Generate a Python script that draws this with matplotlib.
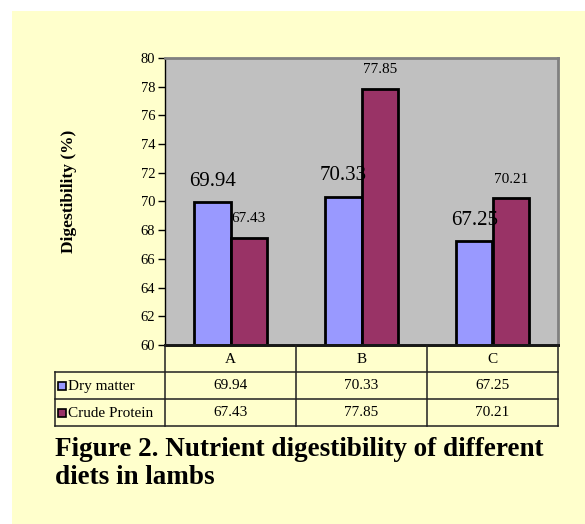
import matplotlib.pyplot as plt
from matplotlib.patches import Rectangle
import numpy as np

diets = ["A", "B", "C"]
dry_matter = [69.94, 70.33, 67.25]
crude_protein = [67.43, 77.85, 70.21]
series_names = ["Dry matter", "Crude Protein"]
y_ticks = list(range(60, 81, 2))

W, H = 585, 524
BG = "#FFFFCC"
C_DRY = "#9999FF"
C_CP = "#993366"

plt.rcParams["font.family"] = ["Liberation Serif", "DejaVu Serif"]

fig = plt.figure(figsize=(W / 100, H / 100), dpi=100)
fig.patch.set_facecolor("white")
fig.patches.append(Rectangle((12 / W, 0), 1, 1 - 11 / H, transform=fig.transFigure,
                             facecolor=BG, edgecolor="none", zorder=-10))

# plot area in pixels
L, R, T, B = 165, 558, 58, 345
ax = fig.add_axes([L / W, 1 - B / H, (R - L) / W, (B - T) / H])
ax.set_facecolor("#C0C0C0")

x = np.arange(len(diets))
bw = 0.28
ax.bar(x - bw / 2, np.array(dry_matter) - 60, bw, bottom=60, color=C_DRY,
       edgecolor="black", linewidth=2)
ax.bar(x + bw / 2, np.array(crude_protein) - 60, bw, bottom=60, color=C_CP,
       edgecolor="black", linewidth=2)

for xi, v in zip(x - bw / 2, dry_matter):
    ax.annotate(f"{v:.2f}", (xi, v), xytext=(0, 15), textcoords="offset points",
                ha="center", va="center", fontsize=15)
for xi, v in zip(x + bw / 2, crude_protein):
    ax.annotate(f"{v:.2f}", (xi, v), xytext=(0, 14), textcoords="offset points",
                ha="center", va="center", fontsize=11)

ax.set_xlim(-0.5, len(diets) - 0.5)
ax.set_ylim(60, 80)
ax.set_yticks(y_ticks)
ax.tick_params(axis="y", length=5, width=1, labelsize=10.5, pad=2)
ax.set_xticks([])
for s in ["top", "right"]:
    ax.spines[s].set_color("#808080")
    ax.spines[s].set_linewidth(2)
ax.spines["left"].set_linewidth(1)
ax.spines["bottom"].set_linewidth(2)
ax.set_ylabel("Digestibility (%)", fontsize=12.5, fontweight="bold")
ax.yaxis.set_label_coords((77 - L) / (R - L), (B - 191.5) / (B - T))

# data table under the plot, drawn in pixel coords
tab = fig.add_axes([0, 0, 1, 1], facecolor="none")
tab.set_xlim(0, W)
tab.set_ylim(H, 0)
tab.axis("off")

TL = 55
rows_y = [B, 372, 399, 426]
col_x = [L + (R - L) * i / len(diets) for i in range(len(diets) + 1)]
lc = "#202020"
lw = 1.1
# horizontal lines
tab.plot([L, R], [rows_y[0]] * 2, color=lc, lw=lw)
for yy in rows_y[1:]:
    tab.plot([TL, R], [yy, yy], color=lc, lw=lw)
# vertical lines
for xx in col_x:
    tab.plot([xx, xx], [rows_y[0], rows_y[-1]], color=lc, lw=lw)
tab.plot([TL, TL], [rows_y[1], rows_y[-1]], color=lc, lw=lw)

for i, d in enumerate(diets):
    cx = (col_x[i] + col_x[i + 1]) / 2
    tab.text(cx, (rows_y[0] + rows_y[1]) / 2 + 1, d, ha="center", va="center", fontsize=11)
    tab.text(cx, (rows_y[1] + rows_y[2]) / 2, f"{dry_matter[i]:.2f}", ha="center",
             va="center", fontsize=11)
    tab.text(cx, (rows_y[2] + rows_y[3]) / 2, f"{crude_protein[i]:.2f}", ha="center",
             va="center", fontsize=11)

for j, (name, col) in enumerate(zip(series_names, [C_DRY, C_CP])):
    cy = (rows_y[j + 1] + rows_y[j + 2]) / 2
    tab.add_patch(Rectangle((TL + 3, cy - 4), 8, 8, facecolor=col, edgecolor="black", lw=1.2))
    tab.text(TL + 13, cy + 1, name, ha="left", va="center", fontsize=11)

fig.text(TL / W, 1 - 437 / H, "Figure 2. Nutrient digestibility of different\ndiets in lambs",
         ha="left", va="top", fontsize=19.5, fontweight="bold", linespacing=1.15)

fig.savefig("out.png", dpi=100, facecolor=fig.get_facecolor())
